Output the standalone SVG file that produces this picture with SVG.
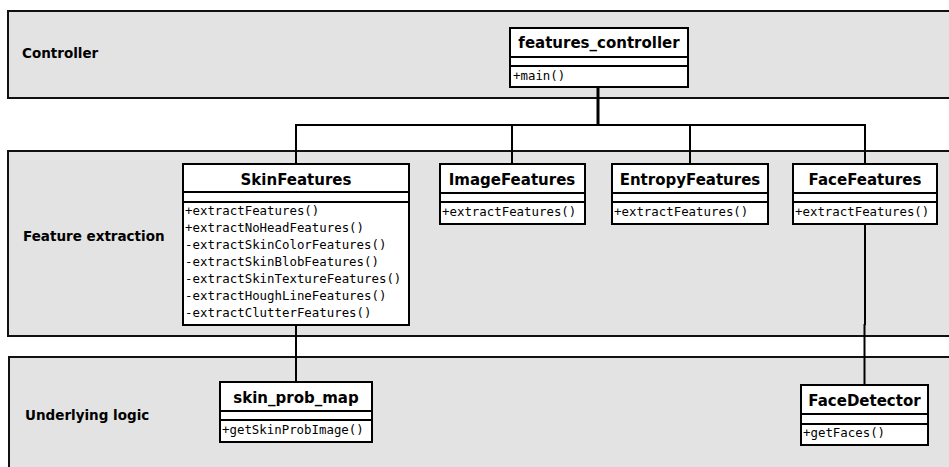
<svg xmlns="http://www.w3.org/2000/svg" width="949" height="467" viewBox="0 0 949 467">
  <style>
    .band { fill: #e3e3e3; stroke: #111; stroke-width: 2; }
    .band-label { font-family: "DejaVu Sans", "Noto Sans", sans-serif; font-weight: bold; font-size: 13.5px; fill: #000; }
    .box { fill: #fff; stroke: #000; stroke-width: 2; }
    .sep { stroke: #000; stroke-width: 2; fill: none; }
    .title { font-family: "DejaVu Sans", "Noto Sans", sans-serif; font-weight: bold; font-size: 15px; fill: #000; text-anchor: middle; }
    .op { font-family: "DejaVu Sans Mono", "Liberation Mono", monospace; font-size: 12.4px; fill: #000; }
    .wire { stroke: #000; stroke-width: 2; fill: none; }
    .trunk { stroke: #000; stroke-width: 3; fill: none; }
  </style>

  <rect width="949" height="467" fill="#fff"/>

  <!-- layers -->
  <g id="layer-controller">
    <rect class="band" x="8" y="11" width="960" height="87"/>
    <text class="band-label" x="22" y="58">Controller</text>
  </g>
  <g id="layer-feature-extraction">
    <rect class="band" x="8" y="151" width="960" height="185"/>
    <text class="band-label" x="23" y="241">Feature extraction</text>
  </g>
  <g id="layer-underlying-logic">
    <rect class="band" x="9" y="357" width="960" height="130"/>
    <text class="band-label" x="25" y="420">Underlying logic</text>
  </g>

  <!-- connectors -->
  <g id="connectors">
    <line class="trunk" x1="598" y1="87" x2="598" y2="126"/>
    <line class="wire" x1="295" y1="125" x2="866" y2="125"/>
    <line class="wire" x1="296" y1="125" x2="296" y2="164"/>
    <line class="wire" x1="512" y1="125" x2="512" y2="164"/>
    <line class="wire" x1="690" y1="125" x2="690" y2="164"/>
    <line class="wire" x1="865" y1="125" x2="865" y2="164"/>
    <line class="wire" x1="296" y1="325" x2="296" y2="382"/>
    <line class="wire" x1="865" y1="224" x2="865" y2="325"/>
    <line class="wire" x1="864.5" y1="324" x2="864.5" y2="385"/>
  </g>

  <!-- classes -->
  <g id="features_controller">
    <rect class="box" x="510" y="28" width="178" height="59"/>
    <line class="sep" x1="510" y1="57" x2="688" y2="57"/>
    <line class="sep" x1="510" y1="66" x2="688" y2="66"/>
    <text class="title" x="599" y="48">features_controller</text>
    <text class="op" x="513" y="80">+main()</text>
  </g>

  <g id="SkinFeatures">
    <rect class="box" x="183" y="164" width="226" height="161"/>
    <line class="sep" x1="183" y1="192" x2="409" y2="192"/>
    <line class="sep" x1="183" y1="202" x2="409" y2="202"/>
    <text class="title" x="296" y="185">SkinFeatures</text>
    <text class="op" x="185" y="215">+extractFeatures()</text>
    <text class="op" x="185" y="232">+extractNoHeadFeatures()</text>
    <text class="op" x="185" y="249">-extractSkinColorFeatures()</text>
    <text class="op" x="185" y="266">-extractSkinBlobFeatures()</text>
    <text class="op" x="185" y="283">-extractSkinTextureFeatures()</text>
    <text class="op" x="185" y="300">-extractHoughLineFeatures()</text>
    <text class="op" x="185" y="317">-extractClutterFeatures()</text>
  </g>

  <g id="ImageFeatures">
    <rect class="box" x="440" y="164" width="145" height="60"/>
    <line class="sep" x1="440" y1="193" x2="585" y2="193"/>
    <line class="sep" x1="440" y1="202" x2="585" y2="202"/>
    <text class="title" x="512" y="185">ImageFeatures</text>
    <text class="op" x="442" y="216">+extractFeatures()</text>
  </g>

  <g id="EntropyFeatures">
    <rect class="box" x="612" y="164" width="156" height="60"/>
    <line class="sep" x1="612" y1="193" x2="768" y2="193"/>
    <line class="sep" x1="612" y1="202" x2="768" y2="202"/>
    <text class="title" x="690" y="185">EntropyFeatures</text>
    <text class="op" x="614" y="216">+extractFeatures()</text>
  </g>

  <g id="FaceFeatures">
    <rect class="box" x="793" y="164" width="144" height="60"/>
    <line class="sep" x1="793" y1="193" x2="937" y2="193"/>
    <line class="sep" x1="793" y1="202" x2="937" y2="202"/>
    <text class="title" x="865" y="185">FaceFeatures</text>
    <text class="op" x="795" y="216">+extractFeatures()</text>
  </g>

  <g id="skin_prob_map">
    <rect class="box" x="220" y="382" width="152" height="60"/>
    <line class="sep" x1="220" y1="411" x2="372" y2="411"/>
    <line class="sep" x1="220" y1="420" x2="372" y2="420"/>
    <text class="title" x="296" y="403">skin_prob_map</text>
    <text class="op" x="222" y="434">+getSkinProbImage()</text>
  </g>

  <g id="FaceDetector">
    <rect class="box" x="801" y="385" width="127" height="60"/>
    <line class="sep" x1="801" y1="414" x2="928" y2="414"/>
    <line class="sep" x1="801" y1="424" x2="928" y2="424"/>
    <text class="title" x="864.5" y="406">FaceDetector</text>
    <text class="op" x="803" y="437">+getFaces()</text>
  </g>
</svg>
